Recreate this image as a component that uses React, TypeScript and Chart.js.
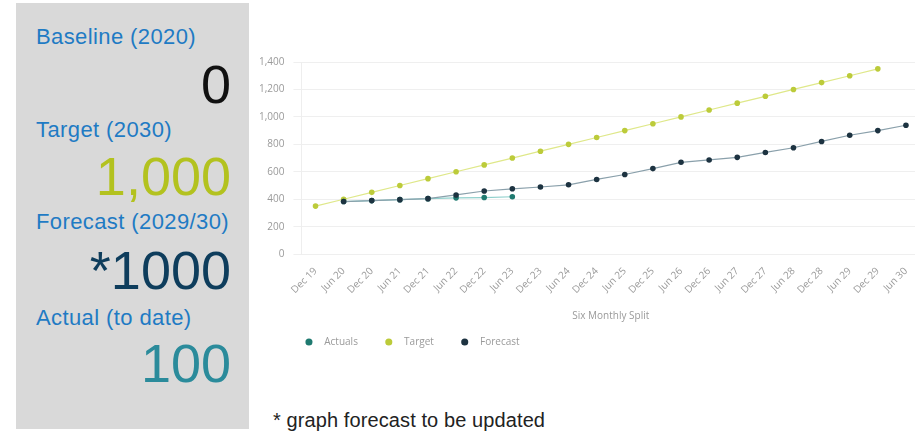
import React, { useEffect, useRef } from "react";
import { Chart, registerables } from "chart.js";

Chart.register(...registerables);

const labels = [
  "Dec 19", "Jun 20", "Dec 20", "Jun 21", "Dec 21", "Jun 22", "Dec 22", "Jun 23",
  "Dec 23", "Jun 24", "Dec 24", "Jun 25", "Dec 25", "Jun 26", "Dec 26", "Jun 27",
  "Dec 27", "Jun 28", "Dec 28", "Jun 29", "Dec 29", "Jun 30",
];
const actuals = [null, 383, 390, 397, 404, 410, 412, 418, null, null, null, null, null, null, null, null, null, null, null, null, null, null];
const target = [350, 400, 450, 500, 550, 600, 650, 700, 750, 800, 850, 900, 950, 1000, 1050, 1100, 1150, 1200, 1250, 1300, 1350, null];
const forecast = [null, 383, 390, 397, 404, 431, 460, 476, 489, 505, 544, 580, 623, 669, 686, 705, 741, 775, 821, 866, 900, 939];

const kpis = [
  { label: "Baseline (2020)", value: "0", color: "#111111" },
  { label: "Target (2030)", value: "1,000", color: "#b3c21f" },
  { label: "Forecast (2029/30)", value: "*1000", color: "#0e3d5c" },
  { label: "Actual (to date)", value: "100", color: "#2b8b9b" },
];

function LineChart() {
  const ref = useRef<HTMLCanvasElement | null>(null);
  useEffect(() => {
    if (!ref.current) return;
    const fam = "'Open Sans', Arial, sans-serif";
    const chart = new Chart(ref.current, {
      type: "line",
      data: {
        labels,
        datasets: [
          {
            label: "Actuals",
            data: actuals,
            borderColor: "#8fd0cc",
            backgroundColor: "#1f7a70",
            pointBackgroundColor: "#1f7a70",
            pointBorderColor: "#1f7a70",
            borderWidth: 1.2,
            pointRadius: 2.8,
            pointBorderWidth: 0,
            order: 1,
          },
          {
            label: "Target",
            data: target,
            borderColor: "#dfe88a",
            backgroundColor: "#bccb3a",
            pointBackgroundColor: "#bccb3a",
            pointBorderColor: "#bccb3a",
            borderWidth: 1.2,
            pointRadius: 2.8,
            pointBorderWidth: 0,
            order: 2,
          },
          {
            label: "Forecast",
            data: forecast,
            borderColor: "#8aa0ab",
            backgroundColor: "#1d3341",
            pointBackgroundColor: "#1d3341",
            pointBorderColor: "#1d3341",
            borderWidth: 1.2,
            pointRadius: 2.8,
            pointBorderWidth: 0,
            order: 0,
          },
        ],
      },
      options: {
        animation: false,
        responsive: false,
        maintainAspectRatio: false,
        layout: { padding: { left: 0, right: 0, top: 22, bottom: 0 } },
        plugins: {
          tooltip: { enabled: false },
          legend: {
            position: "bottom",
            align: "start",
            fullSize: false,
            labels: {
              sort: (a: any, b: any) => a.datasetIndex - b.datasetIndex,
              generateLabels: (c: any) =>
                Chart.defaults.plugins.legend.labels
                  .generateLabels(c)
                  .map((l: any) => ({ ...l, text: "   " + l.text + "         " })),
              usePointStyle: true,
              pointStyle: "circle",
              boxWidth: 5,
              boxHeight: 5,
              padding: 5,
              color: "#9a9a9a",
              font: { family: fam, size: 10 },
            },
          },
        },
        scales: {
          x: {
            offset: true,
            grid: { display: false },
            border: { display: false },
            ticks: {
              color: "#9a9a9a",
              font: { family: fam, size: 10 },
              minRotation: 45,
              maxRotation: 45,
              autoSkip: false,
            },
            title: {
              display: true,
              text: "Six Monthly Split",
              color: "#9a9a9a",
              font: { family: fam, size: 10 },
              padding: { top: 11, bottom: 10 },
            },
          },
          y: {
            min: 0,
            max: 1400,
            grid: { color: "#efefef" },
            border: { display: true, color: "#eeeeee" },
            ticks: {
              stepSize: 200,
              color: "#9a9a9a",
              font: { family: fam, size: 10 },
              padding: 9,
              callback: (v: any) => Number(v).toLocaleString("en-US"),
            },
          },
        },
      },
    });
    return () => chart.destroy();
  }, []);
  return <canvas ref={ref} width={674} height={317} style={{ display: "block" }} />;
}

export default function App() {
  const labelTops = [25, 118, 210, 306];
  const valueTops = [53, 145, 239, 332];
  return (
    <div style={{ position: "absolute", left: 0, top: 0, width: 915, height: 433, overflow: "hidden", background: "#fff", fontFamily: "Arial, 'Liberation Sans', sans-serif" }}>
      <div style={{ position: "absolute", left: 16, top: 3, width: 233, height: 426, background: "#d9d9d9" }} />
      {kpis.map((k, i) => (
        <React.Fragment key={k.label}>
          <div style={{ position: "absolute", left: 36, top: labelTops[i], fontSize: 22, letterSpacing: "0.4px", lineHeight: "24px", color: "#1f7bc4", whiteSpace: "nowrap" }}>
            {k.label}
          </div>
          <div style={{ position: "absolute", right: 915 - 231, top: valueTops[i], fontSize: 54, lineHeight: "62px", color: k.color, whiteSpace: "nowrap" }}>
            {k.value}
          </div>
        </React.Fragment>
      ))}
      <div style={{ position: "absolute", left: 250, top: 40, width: 665, height: 320, overflow: "hidden" }}>
        <LineChart />
      </div>
      <div style={{ position: "absolute", left: 273, top: 408, fontSize: 20, letterSpacing: "0.1px", lineHeight: "24px", color: "#222", whiteSpace: "nowrap" }}>
        * graph forecast to be updated
      </div>
    </div>
  );
}
